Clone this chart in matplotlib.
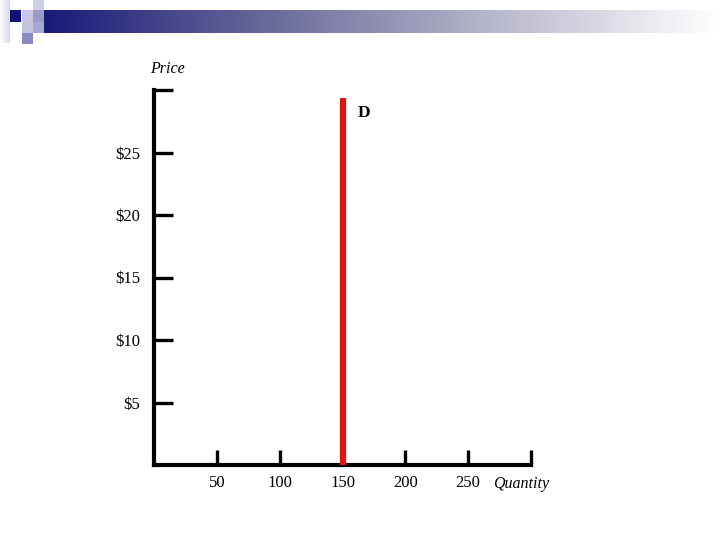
import matplotlib
matplotlib.use("Agg")
import matplotlib.pyplot as plt
import numpy as np
from matplotlib.patches import Rectangle
from matplotlib.colors import LinearSegmentedColormap

# Data
quantity_ticks = [50, 100, 150, 200, 250, 300]
quantity_labels = ["50", "100", "150", "200", "250", ""]
price_ticks = [5, 10, 15, 20, 25, 30]
price_labels = ["$5", "$10", "$15", "$20", "$25", ""]
demand_quantity = [150, 150]
demand_price = [0, 29.4]

plt.rcParams['font.family'] = ['Liberation Serif', 'DejaVu Serif']

fig = plt.figure(figsize=(7.2, 5.4), dpi=100)

# Decorative slide header (figure pixel coordinates)
deco = fig.add_axes([0, 0, 1, 1])
deco.set_xlim(0, 720)
deco.set_ylim(540, 0)
deco.axis('off')
cmap = LinearSegmentedColormap.from_list("bar", ["#1a1a7a", "#6a6a9a", "#b8b8cc", "#ffffff"])
grad = np.linspace(0, 1, 256).reshape(1, -1)
deco.imshow(grad, cmap=cmap, extent=[44, 720, 33, 10], aspect='auto', zorder=1)
deco.imshow(np.linspace(0, 1, 32).reshape(1, -1),
            cmap=LinearSegmentedColormap.from_list("s", ["#ffffff", "#d8d8ee"]),
            extent=[0, 10, 43, 0], aspect='auto', zorder=1)
squares = [
    (10, 10, "#10107a"),
    (22, 10, "#c8c8e6"),
    (33, 0, "#cfcfe8"),
    (33, 10, "#9c9ccc"),
    (22, 22, "#c4c4e2"),
    (33, 22, "#a8a8d4"),
    (22, 33, "#8a8ac0"),
]
for sx, sy, c in squares:
    deco.add_patch(Rectangle((sx, sy), 11, 11 if sy != 10 else 12, color=c, zorder=2, lw=0))

# Main chart
ax = fig.add_axes([154/720, (540-465)/540, 377/720, 375/540])
ax.set_xlim(0, 300)
ax.set_ylim(0, 30)
for s in ['top', 'right']:
    ax.spines[s].set_visible(False)
for s in ['left', 'bottom']:
    ax.spines[s].set_linewidth(3.0)
    ax.spines[s].set_color('black')
    ax.spines[s].set_capstyle('projecting')

ax.set_xticks(quantity_ticks)
ax.set_xticklabels(quantity_labels)
ax.set_yticks(price_ticks)
ax.set_yticklabels(price_labels)
ax.tick_params(axis='y', direction='in', length=14, width=2.4, pad=10, labelsize=12, colors='black')
ax.tick_params(axis='x', direction='in', length=11, width=2.4, pad=7, labelsize=12, colors='black')
ax.patch.set_alpha(0)

ax.plot(demand_quantity, demand_price, color='#e01414', linewidth=4.5, solid_capstyle='butt', zorder=3, clip_on=False)
ax.text(162, 28.2, "D", fontsize=12.5, fontweight='bold', ha='left', va='center')
ax.text(11, 31.7, "Price", fontsize=11.5, style='italic', ha='center', va='center')
ax.text(292, -1.5, "Quantity", fontsize=11.5, style='italic', ha='center', va='center')

fig.savefig("out.png", dpi=100)
